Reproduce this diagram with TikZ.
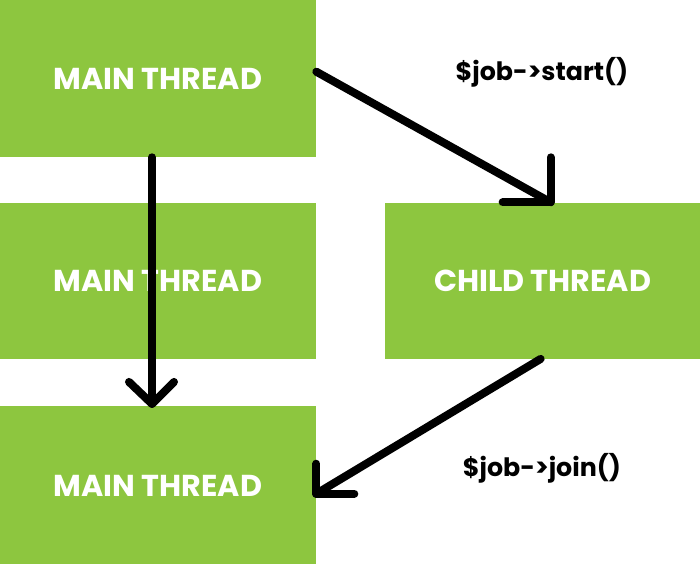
\documentclass[tikz,border=0pt]{standalone}
\usepackage{fontspec}
\setmainfont{Poppins}
\usetikzlibrary{positioning,calc}
\definecolor{threadgreen}{HTML}{8DC63F}

\begin{document}
\begin{tikzpicture}[
    x=0.025cm, y=-0.025cm,
    node distance=1.125cm,
    tblock/.style={rectangle, fill=threadgreen, text=white, minimum width=7.9cm, minimum height=3.9cm, inner sep=0pt, font=\fontsize{21.5}{24}\selectfont\bfseries},
    call/.style={font=\fontsize{18}{22}\selectfont\bfseries, inner sep=0pt},
    thread/.style={draw, line width=0.2cm, line cap=round, line join=round}
]
\useasboundingbox (0,0) rectangle (700,564);

% ----------------------------
% Nodes
% ----------------------------
\node[tblock, minimum height=3.925cm] (main1) at (158,78.5) {MAIN THREAD};
\node[tblock, below=of main1] (main2) {MAIN THREAD};
\node[tblock, below=1.175cm of main2, minimum height=3.975cm] (main3) {MAIN THREAD};
\node[tblock, right=1.7cm of main2] (child) {CHILD THREAD};

\node[call] (start) at (542,72) {\$job->start()};
\node[call] (join) at (542,468) {\$job->join()};

% ----------------------------
% Connectors
% ----------------------------
% spawn
\coordinate (spawntip) at ([xshift=0.2cm]child.north);
\path[thread] ([yshift=0.17cm]main1.east) -- (spawntip);
\path[thread] ($(spawntip)+(0,-45)$) -- (spawntip) -- ++(-48,0);

% main keeps running
\coordinate (maintip) at ([xshift=-0.15cm, yshift=0.05cm]main3.north);
\path[thread] ([xshift=-0.15cm]main1.south) -- (maintip);
\path[thread] ($(maintip)+(-23,-22)$) -- (maintip) -- ++(22,-22);

% join back
\coordinate (jointip) at ([yshift=-0.2cm]main3.east);
\path[thread] ([xshift=-0.05cm]child.south) -- (jointip);
\path[thread] ($(jointip)+(0,-30)$) -- (jointip) -- ++(38,0);

\end{tikzpicture}
\end{document}
